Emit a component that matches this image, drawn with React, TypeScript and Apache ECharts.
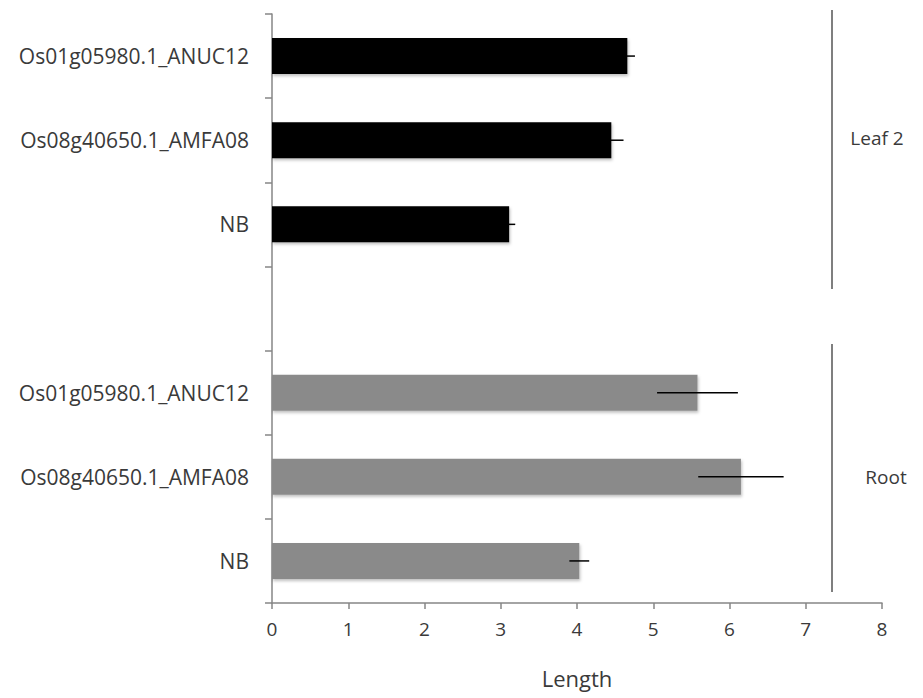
import React, { useEffect, useRef } from "react";
import * as echarts from "echarts";

const categories = [
  "Os01g05980.1_ANUC12",
  "Os08g40650.1_AMFA08",
  "NB",
  "",
  "Os01g05980.1_ANUC12",
  "Os08g40650.1_AMFA08",
  "NB",
];
const groups = ["Leaf 2", "Leaf 2", "Leaf 2", "", "Root", "Root", "Root"];
const lengths: (number | null)[] = [4.66, 4.45, 3.11, null, 5.58, 6.15, 4.03];
const errors: (number | null)[] = [0.1, 0.16, 0.08, null, 0.53, 0.56, 0.13];
const xTicks = [0, 1, 2, 3, 4, 5, 6, 7, 8];

const FONT = "'Open Sans', Lato, sans-serif";
const TEXT = "#3a3a3a";
const AXIS = "#868686";

export default function App() {
  const ref = useRef<HTMLDivElement>(null);
  useEffect(() => {
    if (!ref.current) return;
    const chart = echarts.init(ref.current, undefined, { renderer: "svg" });
    const barData = lengths.map((v, i) =>
      v === null
        ? "-"
        : {
            value: v,
            itemStyle: {
              color: groups[i] === "Leaf 2" ? "#000000" : "#8a8a8a",
            },
          }
    );
    const errData = lengths
      .map((v, i) => (v === null ? null : [v, errors[i] as number, i]))
      .filter((d) => d !== null);
    chart.setOption({
      animation: false,
      backgroundColor: "#ffffff",
      grid: { left: 272, right: 41, top: 14, bottom: 95, containLabel: false },
      xAxis: {
        type: "value",
        min: xTicks[0],
        max: xTicks[xTicks.length - 1],
        interval: 1,
        name: "Length",
        nameLocation: "middle",
        nameGap: 64,
        nameTextStyle: { fontFamily: FONT, fontSize: 22, color: TEXT },
        axisLine: { show: true, lineStyle: { color: AXIS, width: 1.5 } },
        axisTick: { show: true, length: 6, lineStyle: { color: AXIS, width: 1.5 } },
        axisLabel: { fontFamily: FONT, fontSize: 19, color: TEXT, margin: 16 },
        splitLine: { show: false },
      },
      yAxis: {
        type: "category",
        inverse: true,
        data: categories,
        axisLine: { show: true, lineStyle: { color: AXIS, width: 1.5 } },
        axisTick: { show: true, length: 7, lineStyle: { color: AXIS, width: 1.5 } },
        axisLabel: { fontFamily: FONT, fontSize: 21, color: TEXT, margin: 23 },
      },
      series: [
        {
          type: "bar",
          data: barData,
          barWidth: 36,
          itemStyle: {
            shadowBlur: 3,
            shadowOffsetX: 1,
            shadowOffsetY: 2,
            shadowColor: "rgba(0,0,0,0.25)",
          },
        },
        {
          type: "custom",
          data: errData,
          encode: { x: 0, y: 2 },
          z: 5,
          renderItem: (params: any, api: any) => {
            const v = api.value(0);
            const e = api.value(1);
            const idx = api.value(2);
            const p1 = api.coord([v - e, idx]);
            const p2 = api.coord([v + e, idx]);
            return {
              type: "line",
              shape: { x1: p1[0], y1: p1[1], x2: p2[0], y2: p2[1] },
              style: { stroke: "#000000", lineWidth: 1.5 },
            };
          },
        },
      ],
      graphic: [
        {
          type: "line",
          shape: { x1: 832, y1: 10, x2: 832, y2: 289 },
          style: { stroke: "#7f7f7f", lineWidth: 2 },
        },
        {
          type: "line",
          shape: { x1: 832, y1: 344, x2: 832, y2: 592 },
          style: { stroke: "#7f7f7f", lineWidth: 2 },
        },
        {
          type: "text",
          x: 877,
          y: 138,
          style: {
            text: "Leaf 2",
            fontFamily: FONT,
            fontSize: 19,
            fill: TEXT,
            align: "center",
            verticalAlign: "middle",
          },
        },
        {
          type: "text",
          x: 886,
          y: 477,
          style: {
            text: "Root",
            fontFamily: FONT,
            fontSize: 19,
            fill: TEXT,
            align: "center",
            verticalAlign: "middle",
          },
        },
      ],
    });
    return () => chart.dispose();
  }, []);
  return (
    <div
      ref={ref}
      style={{ position: "fixed", left: 0, top: 0, width: 923, height: 698 }}
    />
  );
}
